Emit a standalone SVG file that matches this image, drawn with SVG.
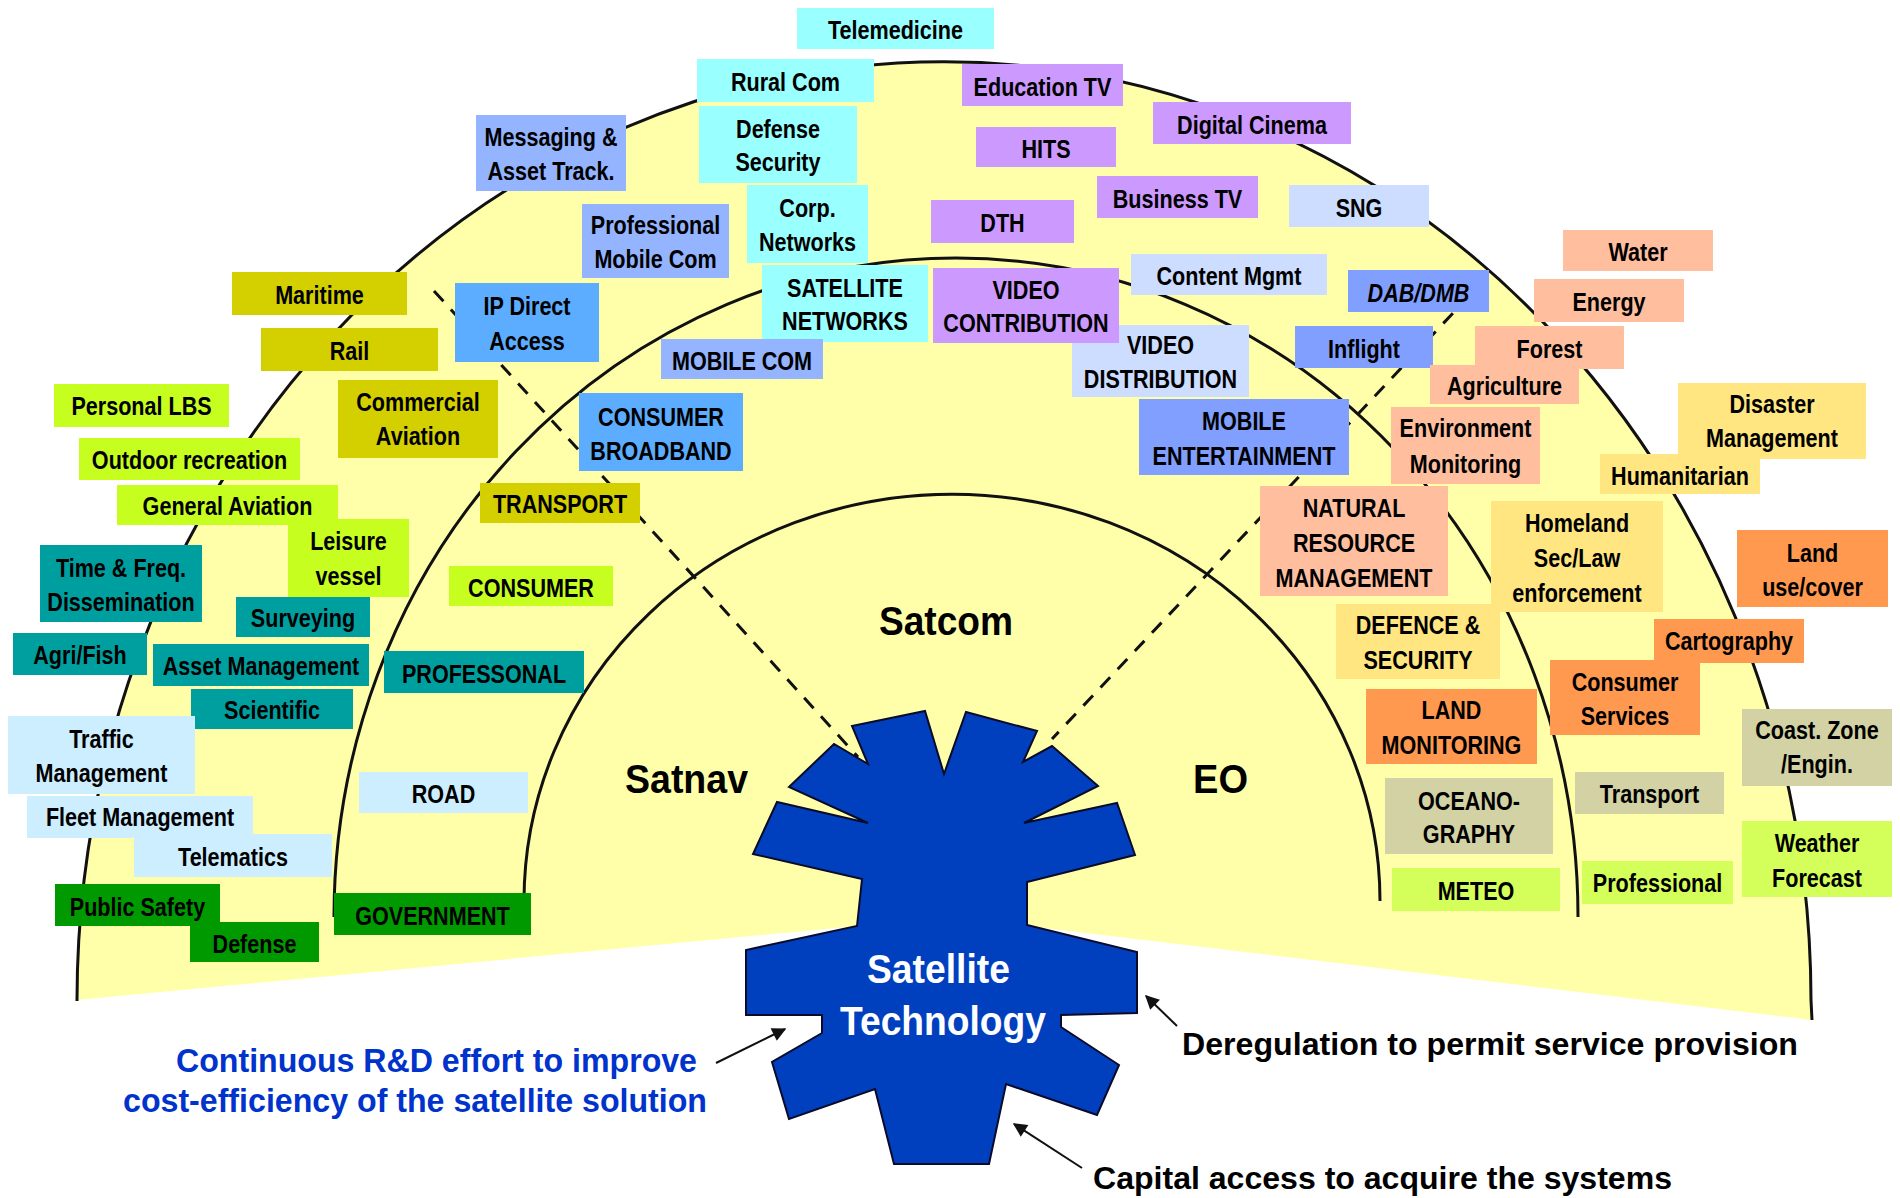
<svg xmlns="http://www.w3.org/2000/svg" width="1900" height="1198" viewBox="0 0 1900 1198">
<defs>
<style>
.l{font-family:"Liberation Sans",Arial,sans-serif;font-weight:bold;font-size:26px;text-anchor:middle;fill:#000}
.big{font-family:"Liberation Sans",Arial,sans-serif;font-weight:bold;font-size:40px;fill:#000}
.foot{font-family:"Liberation Sans",Arial,sans-serif;font-weight:bold;font-size:32px;fill:#000}
.arc{fill:none;stroke:#111;stroke-width:3}
.dash{fill:none;stroke:#111;stroke-width:3;stroke-dasharray:14 11}
.arr{fill:none;stroke:#111;stroke-width:2;marker-end:url(#ah)}
.c1{fill:#99FFFF}.c2{fill:#94B4FF}.c3{fill:#5CADFF}.c4{fill:#809FFF}.c5{fill:#CCDDFF}.c6{fill:#CC99FF}
.c7{fill:#FFBF9F}.c8{fill:#FFE680}.c9{fill:#FF9950}.c10{fill:#D2D2A4}.c11{fill:#D4FF5A}.c12{fill:#D4D000}
.c13{fill:#C6FF1F}.c14{fill:#009F9F}.c15{fill:#CCEEFF}.c16{fill:#009900}
</style>
<marker id="ah" viewBox="0 0 10 10" refX="9" refY="5" markerWidth="16" markerHeight="14" markerUnits="userSpaceOnUse" orient="auto"><path d="M0,0 L10,5 L0,10 z" fill="#111"/></marker>
</defs>
<rect width="1900" height="1198" fill="#fff"/>
<g id="background">
<path d="M77,1000 A867,939 0 0 1 1811,1000 L1812,1020 L1027,926 L857,926 Z" fill="#FFFFAA"/>
<path class="arc" d="M77,1001 A867,939 0 0 1 1811,1000 L1812,1020"/>
<path class="arc" d="M334,917 A622,659 0 0 1 1578,917"/>
<path class="arc" d="M524,901 A428,407 0 0 1 1380,901"/>
</g>
<g id="connectors">
<line class="dash" x1="434" y1="291" x2="858" y2="757"/>
<line class="dash" x1="1470" y1="295" x2="1052" y2="739"/>
<line class="arr" x1="716" y1="1063" x2="785" y2="1029"/>
<line class="arr" x1="1177" y1="1026" x2="1146" y2="996"/>
<line class="arr" x1="1082" y1="1168" x2="1014" y2="1124"/>
</g>
<g id="n-telemedicine"><rect class="c1" x="797" y="8" width="197" height="41"/><text class="l" transform="translate(895.5,39) scale(.83,1)">Telemedicine</text></g>
<g id="n-ruralcom"><rect class="c1" x="697" y="59" width="177" height="43"/><text class="l" transform="translate(785.5,91) scale(.83,1)">Rural Com</text></g>
<g id="n-defensesecurity"><rect class="c1" x="699" y="106" width="158" height="77"/><text class="l" transform="translate(778,137.5) scale(.83,1)"><tspan x="0">Defense</tspan><tspan x="0" dy="34">Security</tspan></text></g>
<g id="n-corpnetworks"><rect class="c1" x="747" y="185" width="121" height="78"/><text class="l" transform="translate(807.5,217) scale(.83,1)"><tspan x="0">Corp.</tspan><tspan x="0" dy="34">Networks</tspan></text></g>
<g id="n-profmobile"><rect class="c2" x="582" y="204" width="147" height="74"/><text class="l" transform="translate(655.5,234) scale(.83,1)"><tspan x="0">Professional</tspan><tspan x="0" dy="34">Mobile Com</tspan></text></g>
<g id="n-messaging"><rect class="c2" x="476" y="115" width="150" height="76"/><text class="l" transform="translate(551,146) scale(.83,1)"><tspan x="0">Messaging &amp;</tspan><tspan x="0" dy="34">Asset Track.</tspan></text></g>
<g id="n-educationtv"><rect class="c6" x="962" y="64" width="161" height="42"/><text class="l" transform="translate(1042.5,95.5) scale(.83,1)">Education TV</text></g>
<g id="n-hits"><rect class="c6" x="976" y="127" width="140" height="40"/><text class="l" transform="translate(1046,157.5) scale(.83,1)">HITS</text></g>
<g id="n-digitalcinema"><rect class="c6" x="1153" y="102" width="198" height="42"/><text class="l" transform="translate(1252,133.5) scale(.83,1)">Digital Cinema</text></g>
<g id="n-businesstv"><rect class="c6" x="1097" y="176" width="161" height="42"/><text class="l" transform="translate(1177.5,207.5) scale(.83,1)">Business TV</text></g>
<g id="n-dth"><rect class="c6" x="931" y="200" width="143" height="43"/><text class="l" transform="translate(1002.5,232) scale(.83,1)">DTH</text></g>
<g id="n-sng"><rect class="c5" x="1289" y="185" width="140" height="42"/><text class="l" transform="translate(1359,216.5) scale(.83,1)">SNG</text></g>
<g id="n-contentmgmt"><rect class="c5" x="1131" y="254" width="196" height="41"/><text class="l" transform="translate(1229,285) scale(.83,1)">Content Mgmt</text></g>
<g id="n-dabdmb"><rect class="c4" x="1348" y="270" width="141" height="42"/><text class="l" font-style="italic" transform="translate(1418.5,301.5) scale(.83,1)">DAB/DMB</text></g>
<g id="n-satnetworks"><rect class="c1" x="762" y="265" width="166" height="77"/><text class="l" transform="translate(845,296.5) scale(.83,1)"><tspan x="0">SATELLITE</tspan><tspan x="0" dy="34">NETWORKS</tspan></text></g>
<g id="n-videodist"><rect class="c5" x="1072" y="325" width="177" height="72"/><text class="l" transform="translate(1160.5,354) scale(.83,1)"><tspan x="0">VIDEO</tspan><tspan x="0" dy="34">DISTRIBUTION</tspan></text></g>
<g id="n-videocontrib"><rect class="c6" x="933" y="268" width="186" height="75"/><text class="l" transform="translate(1026,298.5) scale(.83,1)"><tspan x="0">VIDEO</tspan><tspan x="0" dy="34">CONTRIBUTION</tspan></text></g>
<g id="n-mobilecom"><rect class="c2" x="661" y="339" width="162" height="40"/><text class="l" transform="translate(742,369.5) scale(.83,1)">MOBILE COM</text></g>
<g id="n-inflight"><rect class="c4" x="1295" y="326" width="138" height="42"/><text class="l" transform="translate(1364,357.5) scale(.83,1)">Inflight</text></g>
<g id="n-water"><rect class="c7" x="1563" y="230" width="150" height="41"/><text class="l" transform="translate(1638,261) scale(.83,1)">Water</text></g>
<g id="n-energy"><rect class="c7" x="1534" y="279" width="150" height="43"/><text class="l" transform="translate(1609,311) scale(.83,1)">Energy</text></g>
<g id="n-forest"><rect class="c7" x="1475" y="326" width="149" height="43"/><text class="l" transform="translate(1549.5,358) scale(.83,1)">Forest</text></g>
<g id="n-agriculture"><rect class="c7" x="1430" y="365" width="149" height="39"/><text class="l" transform="translate(1504.5,395) scale(.83,1)">Agriculture</text></g>
<g id="n-disaster"><rect class="c8" x="1678" y="383" width="188" height="76"/><text class="l" transform="translate(1772,413) scale(.83,1)"><tspan x="0">Disaster</tspan><tspan x="0" dy="34">Management</tspan></text></g>
<g id="n-maritime"><rect class="c12" x="232" y="272" width="175" height="43"/><text class="l" transform="translate(319.5,304) scale(.83,1)">Maritime</text></g>
<g id="n-rail"><rect class="c12" x="261" y="328" width="177" height="43"/><text class="l" transform="translate(349.5,360) scale(.83,1)">Rail</text></g>
<g id="n-ipdirect"><rect class="c3" x="455" y="283" width="144" height="79"/><text class="l" transform="translate(527,315) scale(.83,1)"><tspan x="0">IP Direct</tspan><tspan x="0" dy="35">Access</tspan></text></g>
<g id="n-personallbs"><rect class="c13" x="54" y="384" width="175" height="43"/><text class="l" transform="translate(141.5,415) scale(.83,1)">Personal LBS</text></g>
<g id="n-commaviation"><rect class="c12" x="338" y="380" width="160" height="78"/><text class="l" transform="translate(418,411) scale(.83,1)"><tspan x="0">Commercial</tspan><tspan x="0" dy="34">Aviation</tspan></text></g>
<g id="n-consbroadband"><rect class="c3" x="579" y="393" width="164" height="78"/><text class="l" transform="translate(661,426) scale(.83,1)"><tspan x="0">CONSUMER</tspan><tspan x="0" dy="34">BROADBAND</tspan></text></g>
<g id="n-outdoor"><rect class="c13" x="79" y="438" width="221" height="42"/><text class="l" transform="translate(189.5,469) scale(.83,1)">Outdoor recreation</text></g>
<g id="n-genaviation"><rect class="c13" x="117" y="485" width="221" height="40"/><text class="l" transform="translate(227.5,515) scale(.83,1)">General Aviation</text></g>
<g id="n-leisure"><rect class="c13" x="288" y="525" width="121" height="72"/><rect class="c13" x="338" y="519" width="71" height="6"/><text class="l" transform="translate(348.5,550) scale(.83,1)"><tspan x="0">Leisure</tspan><tspan x="0" dy="35">vessel</tspan></text></g>
<g id="n-transport"><rect class="c12" x="480" y="483" width="160" height="40"/><text class="l" transform="translate(560,513) scale(.83,1)">TRANSPORT</text></g>
<g id="n-timefreq"><rect class="c14" x="40" y="545" width="162" height="77"/><text class="l" transform="translate(121,577) scale(.83,1)"><tspan x="0">Time &amp; Freq.</tspan><tspan x="0" dy="34">Dissemination</tspan></text></g>
<g id="n-consumer"><rect class="c13" x="449" y="566" width="164" height="40"/><text class="l" transform="translate(531,597) scale(.83,1)">CONSUMER</text></g>
<g id="n-surveying"><rect class="c14" x="236" y="597" width="134" height="40"/><text class="l" transform="translate(303,627) scale(.83,1)">Surveying</text></g>
<g id="n-agrifish"><rect class="c14" x="13" y="633" width="134" height="42"/><text class="l" transform="translate(80,664) scale(.83,1)">Agri/Fish</text></g>
<g id="n-assetmgmt"><rect class="c14" x="153" y="644" width="216" height="42"/><text class="l" transform="translate(261,675) scale(.83,1)">Asset Management</text></g>
<g id="n-professonal"><rect class="c14" x="384" y="651" width="200" height="42"/><text class="l" transform="translate(484,683) scale(.83,1)">PROFESSONAL</text></g>
<g id="n-scientific"><rect class="c14" x="191" y="689" width="162" height="40"/><text class="l" transform="translate(272,719) scale(.83,1)">Scientific</text></g>
<g id="n-traffic"><rect class="c15" x="8" y="716" width="187" height="78"/><text class="l" transform="translate(101.5,748) scale(.83,1)"><tspan x="0">Traffic</tspan><tspan x="0" dy="34">Management</tspan></text></g>
<g id="n-road"><rect class="c15" x="359" y="772" width="169" height="41"/><text class="l" transform="translate(443.5,803) scale(.83,1)">ROAD</text></g>
<g id="n-fleet"><rect class="c15" x="27" y="796" width="226" height="42"/><text class="l" transform="translate(140,826) scale(.83,1)">Fleet Management</text></g>
<g id="n-telematics"><rect class="c15" x="134" y="834" width="198" height="43"/><text class="l" transform="translate(233,866) scale(.83,1)">Telematics</text></g>
<g id="n-publicsafety"><rect class="c16" x="55" y="884" width="165" height="42"/><text class="l" transform="translate(137.5,916) scale(.83,1)">Public Safety</text></g>
<g id="n-defense"><rect class="c16" x="190" y="922" width="129" height="40"/><text class="l" transform="translate(254.5,953) scale(.83,1)">Defense</text></g>
<g id="n-government"><rect class="c16" x="334" y="893" width="197" height="42"/><text class="l" transform="translate(432.5,925) scale(.83,1)">GOVERNMENT</text></g>
<g id="n-mobileent"><rect class="c4" x="1139" y="399" width="210" height="76"/><text class="l" transform="translate(1244,430) scale(.83,1)"><tspan x="0">MOBILE</tspan><tspan x="0" dy="35">ENTERTAINMENT</tspan></text></g>
<g id="n-envmon"><rect class="c7" x="1391" y="407" width="149" height="77"/><text class="l" transform="translate(1465.5,437) scale(.83,1)"><tspan x="0">Environment</tspan><tspan x="0" dy="36">Monitoring</tspan></text></g>
<g id="n-natres"><rect class="c7" x="1260" y="486" width="188" height="110"/><text class="l" transform="translate(1354,517) scale(.83,1)"><tspan x="0">NATURAL</tspan><tspan x="0" dy="35">RESOURCE</tspan><tspan x="0" dy="35">MANAGEMENT</tspan></text></g>
<g id="n-humanitarian"><rect class="c8" x="1600" y="454" width="160" height="40"/><text class="l" transform="translate(1680,485) scale(.83,1)">Humanitarian</text></g>
<g id="n-homeland"><rect class="c8" x="1491" y="501" width="172" height="111"/><text class="l" transform="translate(1577,532) scale(.83,1)"><tspan x="0">Homeland</tspan><tspan x="0" dy="35">Sec/Law</tspan><tspan x="0" dy="35">enforcement</tspan></text></g>
<g id="n-landuse"><rect class="c9" x="1737" y="530" width="151" height="77"/><text class="l" transform="translate(1812.5,562) scale(.83,1)"><tspan x="0">Land</tspan><tspan x="0" dy="34">use/cover</tspan></text></g>
<g id="n-defencesec"><rect class="c8" x="1336" y="604" width="164" height="75"/><text class="l" transform="translate(1418,634) scale(.83,1)"><tspan x="0">DEFENCE &amp;</tspan><tspan x="0" dy="35">SECURITY</tspan></text></g>
<g id="n-cartography"><rect class="c9" x="1654" y="619" width="150" height="44"/><text class="l" transform="translate(1729,650) scale(.83,1)">Cartography</text></g>
<g id="n-consservices"><rect class="c9" x="1550" y="660" width="150" height="75"/><text class="l" transform="translate(1625,691) scale(.83,1)"><tspan x="0">Consumer</tspan><tspan x="0" dy="34">Services</tspan></text></g>
<g id="n-landmon"><rect class="c9" x="1366" y="689" width="171" height="75"/><text class="l" transform="translate(1451.5,719) scale(.83,1)"><tspan x="0">LAND</tspan><tspan x="0" dy="35">MONITORING</tspan></text></g>
<g id="n-coastzone"><rect class="c10" x="1742" y="709" width="150" height="77"/><text class="l" transform="translate(1817,739) scale(.83,1)"><tspan x="0">Coast. Zone</tspan><tspan x="0" dy="34">/Engin.</tspan></text></g>
<g id="n-oceano"><rect class="c10" x="1385" y="778" width="168" height="76"/><text class="l" transform="translate(1469,810) scale(.83,1)"><tspan x="0">OCEANO-</tspan><tspan x="0" dy="33">GRAPHY</tspan></text></g>
<g id="n-transport2"><rect class="c10" x="1575" y="772" width="149" height="42"/><text class="l" transform="translate(1649.5,803) scale(.83,1)">Transport</text></g>
<g id="n-meteo"><rect class="c11" x="1392" y="868" width="168" height="43"/><text class="l" transform="translate(1476,900) scale(.83,1)">METEO</text></g>
<g id="n-professional2"><rect class="c11" x="1582" y="861" width="151" height="43"/><text class="l" transform="translate(1657.5,892) scale(.83,1)">Professional</text></g>
<g id="n-weather"><rect class="c11" x="1742" y="821" width="150" height="76"/><text class="l" transform="translate(1817,852) scale(.83,1)"><tspan x="0">Weather</tspan><tspan x="0" dy="35">Forecast</tspan></text></g>
<g id="n-satcom"><text class="big" x="879" y="635" textLength="134" lengthAdjust="spacingAndGlyphs">Satcom</text></g>
<g id="n-satnav"><text class="big" x="625" y="793" textLength="123" lengthAdjust="spacingAndGlyphs">Satnav</text></g>
<g id="n-eo"><text class="big" x="1193" y="793" textLength="55" lengthAdjust="spacingAndGlyphs">EO</text></g>
<g id="n-sattech">
<polygon fill="#0040BF" stroke="#0a0a2a" stroke-width="2" stroke-linejoin="miter" points="868,764 834,744 789,787 868,823 777,802 753,854 862,879 857,926 746,950 746,1015 822,1015 822,1033 772,1062 789,1119 875,1089 894,1164 989,1164 1006,1084 1097,1115 1119,1065 1061,1027 1061,1015 1137,1013 1137,952 1027,925 1027,882 1135,855 1117,803 1024,823 1098,786 1052,746 1023,762 1037,731 966,712 944,774 925,711 852,726"/>
<text class="big" x="867" y="983" style="fill:#fff;font-size:41px" textLength="143" lengthAdjust="spacingAndGlyphs">Satellite</text>
<text class="big" x="840" y="1035" style="fill:#fff;font-size:41px" textLength="206" lengthAdjust="spacingAndGlyphs">Technology</text>
</g>
<g id="n-rd"><text class="foot" style="fill:#0033CC;font-size:33px" x="176" y="1072" textLength="521" lengthAdjust="spacingAndGlyphs">Continuous R&amp;D effort to improve</text>
<text class="foot" style="fill:#0033CC;font-size:33px" x="123" y="1112" textLength="584" lengthAdjust="spacingAndGlyphs">cost-efficiency of the satellite solution</text></g>
<g id="n-dereg"><text class="foot" x="1182" y="1055" textLength="616" lengthAdjust="spacingAndGlyphs">Deregulation to permit service provision</text></g>
<g id="n-capital"><text class="foot" style="font-size:31px" x="1093" y="1189" textLength="579" lengthAdjust="spacingAndGlyphs">Capital access to acquire the systems</text></g>
</svg>
